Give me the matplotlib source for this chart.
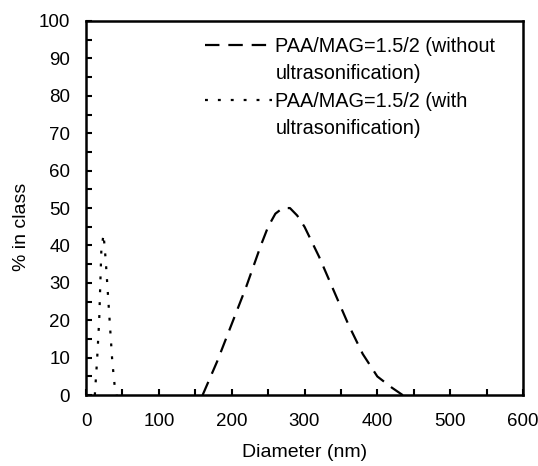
import numpy as np
import matplotlib.pyplot as plt
from matplotlib.ticker import MultipleLocator
from matplotlib.lines import Line2D

plt.rcParams['font.family'] = ['Liberation Sans', 'DejaVu Sans']

# DATA
diam_without = [160, 180, 200, 220, 240, 250, 260, 270, 280, 290, 300, 320, 340, 360, 380, 400, 420, 435]
pct_without = [0, 9, 19, 29, 40, 45, 48.5, 50, 50, 48, 45, 37, 28, 19, 11, 5, 2, 0]

diam_with = [12, 15, 18, 21, 24, 27, 30, 33, 36, 39, 42]
pct_with = [0, 9, 20, 39, 43, 36, 27, 18, 9, 3, 0]

label_without = ['PAA/MAG=1.5/2 (without', 'ultrasonification)']
label_with = ['PAA/MAG=1.5/2 (with', 'ultrasonification)']

fig = plt.figure(figsize=(5.38, 4.66), dpi=100)
ax = fig.add_axes([0.160, 0.152, 0.812, 0.803])

l1, = ax.plot(diam_without, pct_without, color='black', lw=1.6,
              linestyle=(0, (6.5, 4)))
l2, = ax.plot(diam_with, pct_with, color='black', lw=1.6,
              linestyle=(0, (1.3, 4.5)))

ax.set_xlim(0, 600)
ax.set_ylim(0, 100)
ax.xaxis.set_major_locator(MultipleLocator(100))
ax.xaxis.set_minor_locator(MultipleLocator(50))
ax.yaxis.set_major_locator(MultipleLocator(10))
ax.yaxis.set_minor_locator(MultipleLocator(5))
ax.tick_params(which='both', direction='in', length=4.5, width=1.5, labelsize=13.5)
ax.tick_params(axis='x', pad=13)
ax.tick_params(axis='y', pad=11.5)
for s in ax.spines.values():
    s.set_linewidth(1.8)

ax.set_xlabel('Diameter (nm)', fontsize=14)
ax.set_ylabel('% in class', fontsize=14)
ax.xaxis.set_label_coords(0.5, -0.13)
ax.yaxis.set_label_coords(-0.128, 0.45)

# legend: second line of each label sits under an empty handle
blank = Line2D([], [], color='none')
ax.legend([l1, blank, l2, blank], label_without + label_with,
          loc='upper left', bbox_to_anchor=(0.272, 0.957), frameon=False,
          fontsize=14.3, handlelength=3.4, handletextpad=0.15, borderpad=0,
          borderaxespad=0, labelspacing=0.42)

fig.savefig('out.png', dpi=100)
